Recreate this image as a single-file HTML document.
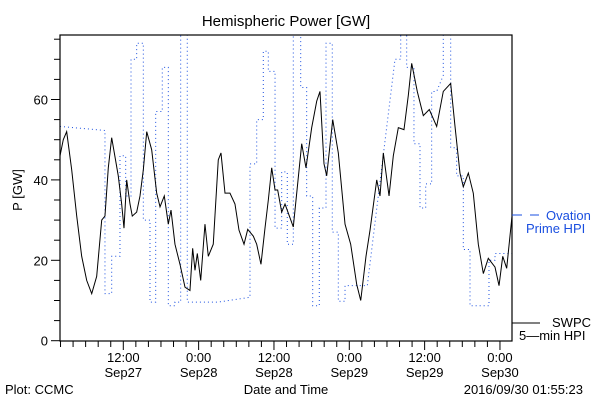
<!DOCTYPE html>
<html><head><meta charset="utf-8"><style>
body{margin:0;background:#fff;}
svg{display:block;font-family:"Liberation Sans","DejaVu Sans",sans-serif;}
</style></head><body>
<svg id="chart" width="600" height="400" viewBox="0 0 600 400">
<defs><clipPath id="plotclip"><rect x="60" y="35" width="452" height="306"/></clipPath></defs>
<rect x="0" y="0" width="600" height="400" fill="#fff"/>
<text x="286" y="26" font-size="15" text-anchor="middle">Hemispheric Power [GW]</text>
<text x="0" y="0" font-size="13" text-anchor="middle" transform="translate(22,190) rotate(-90)">P [GW]</text>
<g id="axes"></g>
<g id="series" clip-path="url(#plotclip)"></g>
<rect x="60" y="35" width="452" height="306" fill="none" stroke="#000" stroke-width="1.2"/>
<line x1="512" y1="215" x2="522" y2="215" stroke="#1a4fe0" stroke-width="1"/>
<line x1="530" y1="215" x2="539" y2="215" stroke="#1a4fe0" stroke-width="1"/>
<text x="546" y="220" font-size="13" fill="#1a4fe0">Ovation</text>
<text x="526" y="233" font-size="13" fill="#1a4fe0">Prime HPI</text>
<line x1="512" y1="323" x2="540" y2="323" stroke="#000" stroke-width="1"/>
<text x="552" y="327" font-size="13">SWPC</text>
<text x="519" y="340" font-size="13">5—min HPI</text>
<text x="5" y="394" font-size="13">Plot: CCMC</text>
<text x="286" y="394" font-size="13" text-anchor="middle">Date and Time</text>
<text x="583" y="394" font-size="13" text-anchor="end">2016/09/30 01:55:23</text>
</svg>
<script>
// hours since 2016-09-27 00:00
const swpcTime=[1.92,2.44,2.98,3.78,4.58,5.37,6.17,6.97,7.76,8.56,9.08,9.61,10.15,11.20,11.74,12.11,12.54,13.07,13.43,14.13,14.66,15.19,15.73,16.52,17.32,17.85,18.53,19.17,19.60,20.23,21.03,21.83,22.62,23.05,23.42,23.79,24.33,25.01,25.54,26.33,27.13,27.56,28.20,28.99,29.79,30.43,31.23,31.82,32.71,33.25,33.93,34.57,35.10,35.64,36.17,36.59,37.23,37.76,39.08,40.42,41.10,42.01,42.81,43.33,43.97,44.40,45.36,46.25,47.32,48.22,49.18,49.82,50.66,51.30,52.37,52.89,53.42,54.33,55.01,55.81,56.71,57.40,57.94,58.83,59.79,60.74,61.92,62.97,64.15,64.84,65.63,66.16,66.96,67.75,68.55,69.35,70.14,71.21,71.85,72.44,73.07,73.92];
const swpcValue=[46,50,52,42.5,31,21,15,11.7,16,30,31,43,50.5,41,34,28,40,34,31,32,36,42.5,52,47.5,36.7,33.3,36,29,32.5,24,19,13.3,12.5,23,17.5,21.7,15,29,21,24,45,46.7,36.7,36.7,34,27.5,24,27.7,26,24,19,28,35,43,37.5,37.5,32,34,28.3,49,43,53,59.6,62,44,41,55,46.7,29,24,14,10,21,27.5,40,36,46.7,36,46,53,52.5,61,69,62,56,57.5,53.3,62,64,53.3,41.7,38.3,41.7,36.7,24,16.7,20.5,18.3,13.7,21,18,31];
const ovTime=[1.92,9.08,9.08,10.15,10.15,11.47,11.47,12.38,12.38,13.23,13.23,14.13,14.13,15.19,15.19,16.25,16.25,17.16,17.16,18.21,18.21,19.17,19.17,20.23,20.23,21.14,21.14,22.19,22.19,27.08,32.18,32.18,33.25,33.25,34.30,34.30,35.10,35.10,36.17,36.17,37.23,37.23,38.12,38.12,39.08,39.08,40.26,40.26,41.21,41.21,42.17,42.17,43.22,43.22,44.29,44.29,45.29,45.29,46.25,46.25,47.32,47.32,50.87,55.28,56.19,56.19,57.14,57.14,58.30,58.30,59.26,59.26,60.17,60.17,61.12,61.12,61.92,62.97,62.97,64.15,64.15,65.10,65.10,66.16,66.16,67.23,67.23,70.25,70.25,71.21,71.21,73.92];
const ovValue=[53.3,52.3,11.7,11.7,21,21,46,46,36,36,70,70,74,74,30,30,9.6,9.6,57,57,68,68,8.7,8.7,9.6,9.6,85,85,9.6,9.6,10.8,44,44,55,55,72,72,67,67,28,28,42,42,24,24,85,85,63,63,36,36,8.7,8.7,33,33,74,74,27,27,9.8,9.8,13.7,13.7,70,70,85,85,68,68,49,49,33,33,39,39,62,62,66,85,85,48,48,41,41,22.7,22.7,8.7,8.7,20,20,21.7,21.7];
const yTicks=[0,20,40,60];
const xTickLabels=[["12:00","Sep27"],["0:00","Sep28"],["12:00","Sep28"],["0:00","Sep29"],["12:00","Sep29"],["0:00","Sep30"]];
const xTickHours=[12,24,36,48,60,72];

const T0=1.917,T1=73.917,X0=60,X1=512,Y0=340.7,YS=4.02;
const xs=t=>X0+(t-T0)/(T1-T0)*(X1-X0);
const ys=v=>Y0-v*YS;
const NS="http://www.w3.org/2000/svg";
const axes=document.getElementById('axes'),series=document.getElementById('series');
function mk(tag,attrs,parent){const e=document.createElementNS(NS,tag);for(const k in attrs)e.setAttribute(k,attrs[k]);parent.appendChild(e);return e;}
for(let v=0;v<=75;v+=5){
  const l=mk('line',{x1:X0-(v%20===0?9:6),x2:X0,y1:ys(v),y2:ys(v),stroke:'#000'},axes);
  
  
}
yTicks.forEach(v=>{
  const t=mk('text',{x:X0-12,y:ys(v)+5,'font-size':13,'text-anchor':'end'},axes);
  t.textContent=v;
  
  
});
for(let h=2;h<=73;h+=2){
  const maj=h%12===0;
  const l=mk('line',{x1:xs(h),x2:xs(h),y1:341,y2:341+(maj?9:6),stroke:'#000'},axes);
  
  
}
xTickHours.forEach((h,i)=>{
  const a=mk('text',{x:xs(h),y:362,'font-size':13,'text-anchor':'middle'},axes);
  a.textContent=xTickLabels[i][0];
  
  
  const b=mk('text',{x:xs(h),y:377,'font-size':13,'text-anchor':'middle'},axes);
  b.textContent=xTickLabels[i][1];
  
  
});
const ov=mk('polyline',{points:ovTime.map((t,i)=>xs(t)+','+ys(ovValue[i])).join(' '),fill:'none',stroke:'#1a4fe0','stroke-width':1,'stroke-dasharray':'1,3'},series);


const sw=mk('polyline',{points:swpcTime.map((t,i)=>xs(t)+','+ys(swpcValue[i])).join(' '),fill:'none',stroke:'#000','stroke-width':1},series);


</script>
</body></html>
